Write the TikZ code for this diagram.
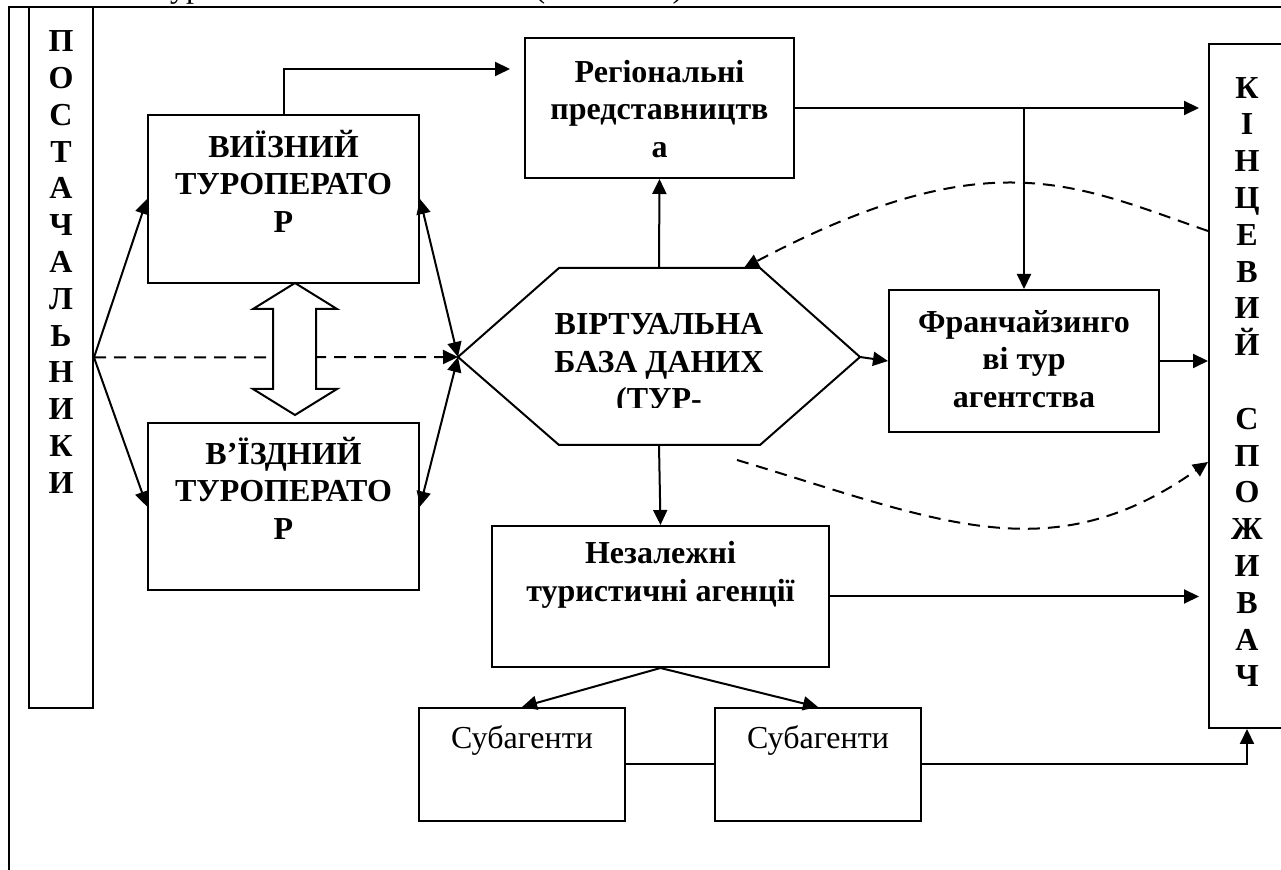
\documentclass[tikz,border=0pt]{standalone}
\usepackage{fontspec}
\setmainfont{Liberation Serif}
\usetikzlibrary{arrows.meta,fit,calc}

\tikzset{
  box/.style={draw, line width=1pt, inner sep=0pt},
  boldtxt/.style={font=\fontsize{16}{18.7}\selectfont\bfseries, align=center, inner sep=0pt},
  regtxt/.style={font=\fontsize{16}{18.7}\selectfont, inner sep=0pt},
  letters/.style={font=\fontsize{16}{18.4}\selectfont\bfseries, align=center, inner sep=0pt},
  link/.style={line width=1pt, -{Triangle[length=7.5pt,width=7pt]}},
  link2/.style={line width=1pt, {Triangle[length=7.5pt,width=7pt]}-{Triangle[length=7.5pt,width=7pt]}},
  dlink/.style={link, dash pattern=on 6pt off 4pt},
}

\begin{document}
\begin{tikzpicture}[x=0.5pt, y=-0.5pt]
        \useasboundingbox (0,0) rectangle (1281,870);

        % frame and the cut caption above it
        \draw[line width=0.8pt] (9,870) -- (9,7) -- (1281,7);
        \node[regtxt, anchor=base] (capa) at (186,-2) {ур};
        \node[regtxt, anchor=base] (capb) at (540,-2) {(};
        \node[regtxt, anchor=base] (capc) at (678,-2) {)};

        % boxes
        \node[box, fit={(29,7) (93,708)}] (postach) {};
        \node[letters] (postach-t) at (61,262) {П\\О\\С\\Т\\А\\Ч\\А\\Л\\Ь\\Н\\И\\К\\И};

        \node[box, fit={(148,115) (419,283)}] (vyizn) {};
        \node[boldtxt] (vyizn-t) at (283.5,181) {ВИЇЗНИЙ\\ТУРОПЕРАТО\\Р};
        \node[box, fit={(148,423) (419,590)}] (vizd) {};
        \node[boldtxt] (vizd-t) at (283.5,488) {В’ЇЗДНИЙ\\ТУРОПЕРАТО\\Р};

        \node[box, fit={(525,38) (794,178)}] (reg) {};
        \node[boldtxt] (reg-t) at (659.5,109) {Регіональні\\представництв\\а};
        \node[box, fit={(889,290) (1159,432)}] (franch) {};
        \node[boldtxt] (franch-t) at (1024,359) {Франчайзинго\\ві тур\\агентства};
        \node[box, fit={(492,526) (829,667)}] (nezal) {};
        \node[boldtxt] (nezal-t) at (660.5,575) {Незалежні\\туристичні агенції};

        \node[box, fit={(419,708) (625,821)}] (sub1) {};
        \node[regtxt, anchor=base] (sub1-t) at (522,749) {Субагенти};
        \node[box, fit={(715,708) (921,821)}] (sub2) {};
        \node[regtxt, anchor=base] (sub2-t) at (818,749) {Субагенти};

        \node[box, fit={(1209,44) (1285,728)}] (kinc) {};
        \node[letters] (kinc-t) at (1247,382) {К\\І\\Н\\Ц\\Е\\В\\И\\Й\\[18.4pt]С\\П\\О\\Ж\\И\\В\\А\\Ч};

        % hexagon
        \coordinate (hexW) at (458,357);
        \coordinate (hexNW) at (559,268);
        \coordinate (hexN) at (659,268);
        \coordinate (hexNE) at (760,268);
        \coordinate (hexE) at (860,357);
        \coordinate (hexSE) at (760,445);
        \coordinate (hexS) at (659,445);
        \coordinate (hexSW) at (559,445);
        \draw[line width=1pt] (hexW) -- (hexNW) -- (hexNE) -- (hexE) -- (hexSE) -- (hexSW) -- cycle;
        \begin{scope}
          \clip (540,290) rectangle (780,408);
          \node[boldtxt] (vbd) at (659,365) {ВІРТУАЛЬНА\\БАЗА ДАНИХ\\(ТУР-};
        \end{scope}

        % connectors
        \draw[link] (postach.east) -- (vyizn.west);
        \draw[link] (postach.east) -- (vizd.west);
        \draw[dlink] (postach.east) -- (hexW);
        \draw[link2] (vyizn.east) -- (hexW);
        \draw[link2] (vizd.east) -- (hexW);
        \draw[line width=1pt, fill=white] (295,283) -- (337,309) -- (316,309) -- (316,389) -- (337,389) -- (295,415)
          -- (253,389) -- (273,389) -- (273,309) -- (253,309) -- cycle;

        \coordinate (regin) at (510,69);
        \draw[link] (vyizn.north) |- (regin);
        \draw[link] (hexN) -- (reg.south);
        \draw[link, shorten >=4.5pt] (reg.east) -- (reg.east -| kinc.west);
        \draw[link] (reg.east -| franch.north) -- (franch.north);
        \draw[link] (hexE) -- (franch.west);
        \draw[link] (franch.east) -- (franch.east -| kinc.west);
        \draw[link] (hexS) -- (nezal.north);
        \draw[link, shorten >=4.5pt] (nezal.east) -- (nezal.east -| kinc.west);
        \draw[link] (nezal.south) -- (sub1.north);
        \draw[link] (nezal.south) -- (sub2.north);
        \draw[line width=1pt] (sub1.east) -- (sub2.west);
        \draw[link] (sub2.east) -| (kinc.south);

        \coordinate (kup) at (kinc.west |- 0,231);
        \coordinate (klo) at (kinc.west |- 0,462);
        \coordinate (dtop) at ($(hexNW)!0.92!(hexNE)$);
        \coordinate (dlo) at (737,460);
        \draw[dlink] (kup) .. controls (1075,185) and (990,138) .. (dtop);
        \draw[dlink] (dlo) .. controls (937,520) and (1049,574) .. (klo);
\end{tikzpicture}
\end{document}
